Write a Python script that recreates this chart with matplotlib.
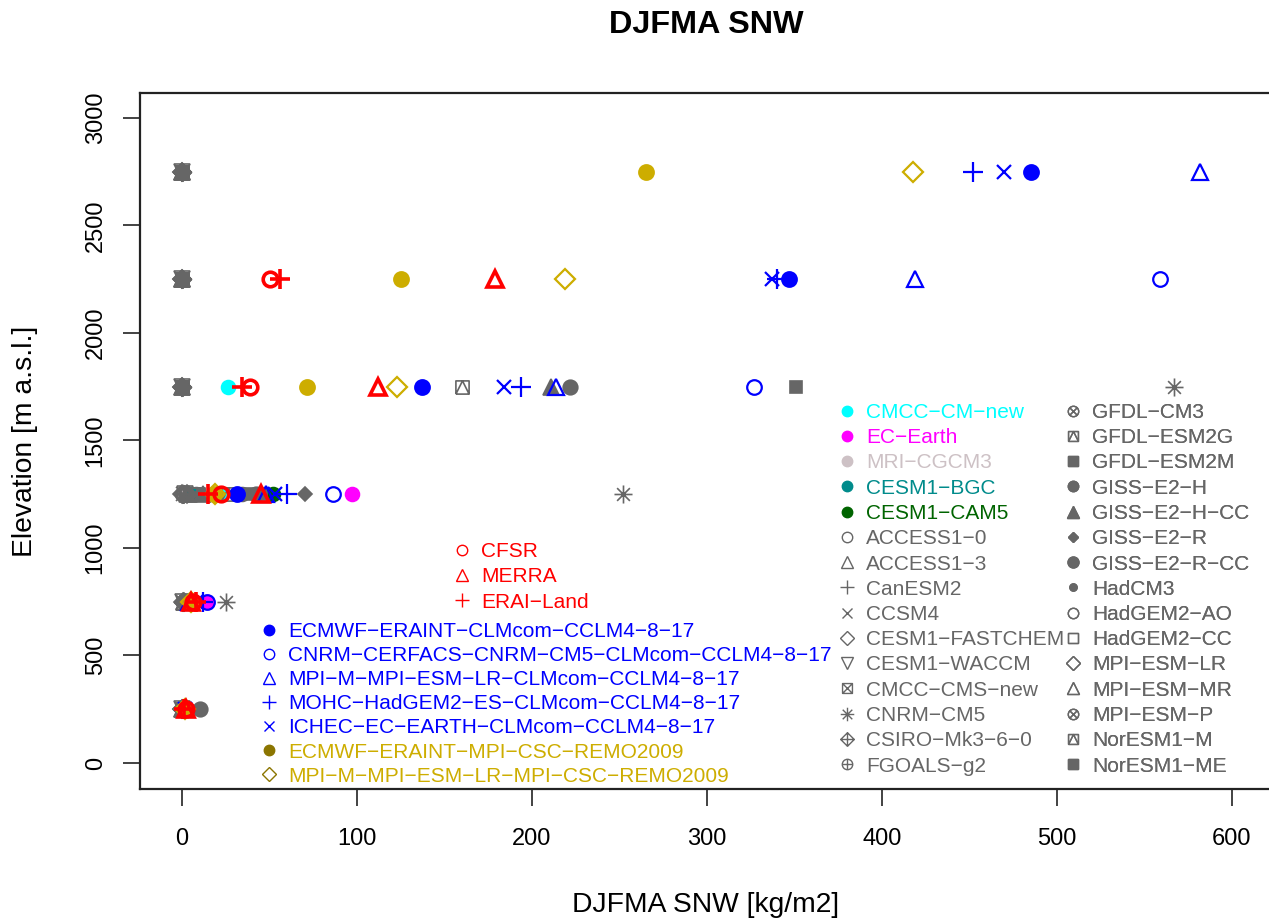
import numpy as np
import matplotlib
matplotlib.use("Agg")
import matplotlib.pyplot as plt
from matplotlib.path import Path
from matplotlib.lines import Line2D

plt.rcParams['font.family'] = ['Liberation Sans', 'DejaVu Sans']

nan = np.nan
elev = [250, 750, 1250, 1750, 2250, 2750]

# reanalyses
rea_names = ['CFSR', 'MERRA', 'ERAI−Land']
rea_pch = [1, 2, 3]
rea_snw = [[2, 6, 22, 39, 50, nan],
           [2, 5, 45, 112, 179, nan],
           [1, 8, 15, 34, 56, nan]]

# regional models
rcm_names = ['ECMWF−ERAINT−CLMcom−CCLM4−8−17',
             'CNRM−CERFACS−CNRM−CM5−CLMcom−CCLM4−8−17',
             'MPI−M−MPI−ESM−LR−CLMcom−CCLM4−8−17',
             'MOHC−HadGEM2−ES−CLMcom−CCLM4−8−17',
             'ICHEC−EC−EARTH−CLMcom−CCLM4−8−17',
             'ECMWF−ERAINT−MPI−CSC−REMO2009',
             'MPI−M−MPI−ESM−LR−MPI−CSC−REMO2009']
rcm_pch = [16, 1, 2, 3, 4, 16, 5]
rcm_cols = ['#0000FF'] * 5 + ['#CDAD00'] * 2
rcm_leg_cols = ['#0000FF'] * 5 + ['#8B7500'] * 2
rcm_snw = [[1.5, 5, 31.6, 137, 347, 485],
           [2, 14.5, 86.5, 327, 559, nan],
           [2, 4, 48, 214, 419, 582],
           [1.5, 12, 60, 194, 340, 452],
           [1.5, 8, 53, 184, 337, 470],
           [1.5, 5, 18, 71.5, 125, 265],
           [1.5, 5, 19, 123, 219, 418]]

# global models
gcm_names = ['CMCC−CM−new', 'EC−Earth', 'MRI−CGCM3', 'CESM1−BGC', 'CESM1−CAM5',
             'ACCESS1−0', 'ACCESS1−3', 'CanESM2', 'CCSM4', 'CESM1−FASTCHEM',
             'CESM1−WACCM', 'CMCC−CMS−new', 'CNRM−CM5', 'CSIRO−Mk3−6−0', 'FGOALS−g2',
             'GFDL−CM3', 'GFDL−ESM2G', 'GFDL−ESM2M', 'GISS−E2−H', 'GISS−E2−H−CC',
             'GISS−E2−R', 'GISS−E2−R−CC', 'HadCM3', 'HadGEM2−AO', 'HadGEM2−CC',
             'MPI−ESM−LR', 'MPI−ESM−MR', 'MPI−ESM−P', 'NorESM1−M', 'NorESM1−ME']
gcm_pch = [16, 16, 16, 16, 16, 1, 2, 3, 4, 5, 6, 7, 8, 9, 10,
           13, 14, 15, 16, 17, 18, 19, 20, 21, 22, 23, 24, 13, 14, 15]
gcm_cols = ['#00FFFF', '#FF00FF', '#CDC1C5', '#008B8B', '#006400'] + ['#666666'] * 25
gcm_snw = [[0.5, 2, 21, 26, nan, nan],
           [1, 14.5, 97, nan, nan, nan],
           [0.5, 1, 0.5, 0, 0, 0],
           [0.5, 1, 5, 0, 0, 0],
           [1, 2, 52, 0, 0, 0],
           [0, 0.5, 2, 0, 0, 0],
           [0, 1, 4, 0, 0, 0],
           [0, 0.5, 1, 0, 0, 0],
           [0, 0.5, 0.5, 0, 0, 0],
           [0, 1, 3, 0, 0, 0],
           [0, 0.5, 1.5, 0, 0, 0],
           [0.5, 2, 6, 0, 0, 0],
           [1, 25, 252, 567, 0, 0],
           [0, 0.5, 0.5, 0, 0, 0],
           [0.5, 1, 2, 0, 0, 0],
           [1, 3, 8, 0, 0, 0],
           [1, 4, 26, 160, 0, 0],
           [1, 5, 38, 351, 0, 0],
           [2, 4, 34, 0, 0, 0],
           [1, 3, 12, 211, 0, 0],
           [2, 5, 70, 0, 0, 0],
           [10.5, 6, 42, 222, 0, 0],
           [1, 2, 10, 0, 0, 0],
           [0, 1, 1, 0, 0, 0],
           [0.5, 2, 5, 0, 0, 0],
           [0, 0.5, 0, 0, 0, 0],
           [0, 1, 3, 0, 0, 0],
           [0, 0.5, 0, 0, 0, 0],
           [1, 3, 9, 0, 0, 0],
           [1, 4, 45, 0, 0, 0]]

# R-like plotting symbols
M, L = Path.MOVETO, Path.LINETO
r = 0.7071
sq = Path([(-1, -1), (1, -1), (1, 1), (-1, 1), (-1, -1)], [M, L, L, L, L])
cross = Path([(-1, -1), (1, 1), (-1, 1), (1, -1)], [M, L, M, L])
cross_in = Path([(-r, -r), (r, r), (-r, r), (r, -r)], [M, L, M, L])
plus = Path([(-1, 0), (1, 0), (0, -1), (0, 1)], [M, L, M, L])
dia = Path([(0, -1), (1, 0), (0, 1), (-1, 0), (0, -1)], [M, L, L, L, L])
circ = Path.unit_circle()
tri = Path([(-1, -1), (0, 1), (1, -1)], [M, L, L])
cp = Path.make_compound_path

PCH = {
    1: ('o', 1.0, False), 2: ('^', 1.1, False), 3: ('+', 1.35, False),
    4: ('x', 1.0, False), 5: ('D', 0.95, False), 6: ('v', 1.1, False),
    7: (cp(sq, cross), 0.95, False), 8: (cp(plus, cross_in), 1.3, False),
    9: (cp(dia, plus), 1.3, False), 10: (cp(circ, plus), 1.0, False),
    13: (cp(circ, cross_in), 1.0, False), 14: (cp(sq, tri), 0.95, False),
    15: ('s', 0.9, True), 16: ('o', 1.0, True), 17: ('^', 1.1, True),
    18: ('D', 0.7, True), 19: ('o', 1.05, True), 20: ('o', 0.7, True),
    21: ('o', 1.0, False), 22: ('s', 0.9, False), 23: ('D', 0.95, False),
    24: ('^', 1.1, False),
}


def mstyle(pch, col, base, mew):
    mk, f, filled = PCH[pch]
    return dict(ls='none', marker=mk, ms=base * f, mew=mew, mec=col,
                mfc=col if filled else 'none')


fig = plt.figure(figsize=(12.69, 9.22), dpi=100)
ax = fig.add_axes([140 / 1269, 133 / 922, 1134 / 1269, 696 / 922])

for vals, p, c in zip(gcm_snw, gcm_pch, gcm_cols):
    ax.plot(vals, elev, **mstyle(p, c, 10, 1.2))
for vals, p, c in zip(rcm_snw, rcm_pch, rcm_cols):
    ax.plot(vals, elev, **mstyle(p, c, 10.5, 1.6))
for vals, p in zip(rea_snw, rea_pch):
    ax.plot(vals, elev, **mstyle(p, '#FF0000', 10.5, 2.6))

ax.set_xlim(-24, 624)
ax.set_ylim(-121, 3116)
ax.set_xticks(range(0, 601, 100))
ax.set_yticks(range(0, 3001, 500))
ax.tick_params(length=12, width=1.2, labelsize=17, color='#222222')
ax.tick_params(axis='x', pad=16)
ax.tick_params(axis='y', pad=12, labelrotation=90)
for t in ax.get_yticklabels():
    t.set_va('center')
for s in ax.spines.values():
    s.set_linewidth(1.6)
    s.set_color('#222222')

fig.text(706 / 1269, 1 - 25 / 922, 'DJFMA SNW', ha='center', va='center',
         fontsize=23.3, fontweight='bold')
fig.text(706 / 1269, 1 - 905 / 922, 'DJFMA SNW [kg/m2]', ha='center', va='center',
         fontsize=20.3)
fig.text(25 / 1269, 1 - 441 / 922, 'Elevation [m a.s.l.]', ha='center', va='center',
         fontsize=20.3, rotation=90)


def add_legend(names, pchs, mcols, tcols, left, top, spacing):
    hs = [Line2D([], [], **mstyle(p, c, 7.5, 1.0)) for p, c in zip(pchs, mcols)]
    lg = ax.legend(hs, names, loc='upper left',
                   bbox_to_anchor=(left / 1269, 1 - top / 922),
                   bbox_transform=fig.transFigure, frameon=False, fontsize=15,
                   labelcolor=tcols, handlelength=0.8, handletextpad=0.5,
                   borderpad=0, borderaxespad=0, labelspacing=spacing)
    ax.add_artist(lg)


add_legend(rea_names, rea_pch, ['#FF0000'] * 3, ['#FF0000'] * 3, 454, 542, 0.3)
add_legend(rcm_names, rcm_pch, rcm_leg_cols, rcm_cols, 261, 622, 0.245)
add_legend(gcm_names[:15], gcm_pch[:15], gcm_cols[:15], gcm_cols[:15], 839, 403, 0.3)
add_legend(gcm_names[15:], gcm_pch[15:], gcm_cols[15:], gcm_cols[15:], 1065, 403, 0.3)

fig.savefig('out.png', dpi=100)
